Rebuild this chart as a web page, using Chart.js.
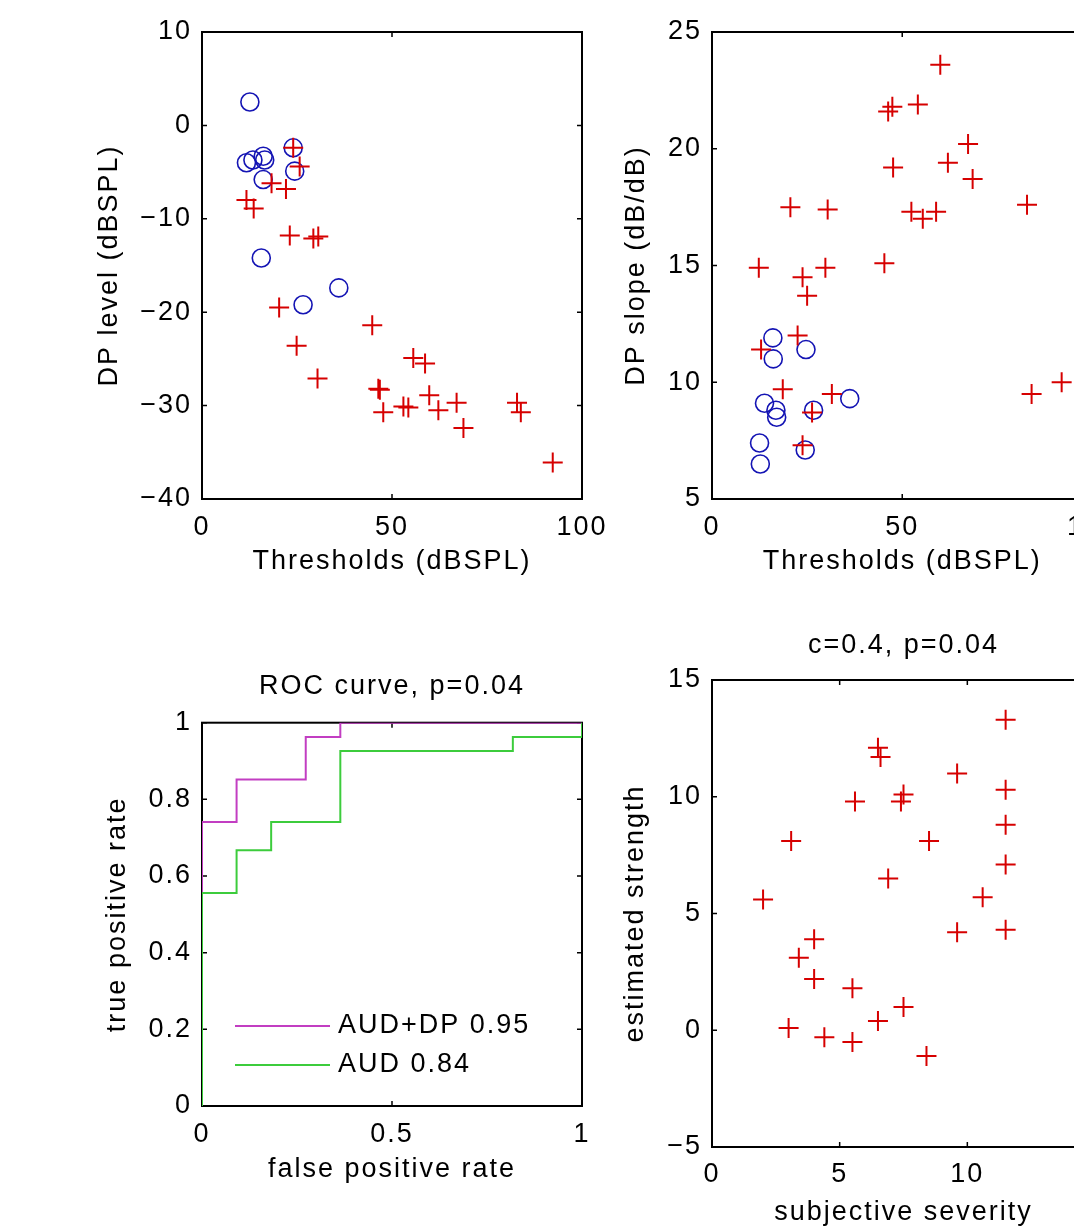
<!DOCTYPE html>
<html>
<head>
<meta charset="utf-8">
<script src="https://cdn.jsdelivr.net/npm/chart.js@4.4.1/dist/chart.umd.min.js"></script>
<style>
  html, body { margin:0; padding:0; background:#fff; }
  body { width:1074px; height:1229px; overflow:hidden; position:relative; }
  canvas { position:absolute; }
</style>
</head>
<body>
<canvas id="c1" width="620" height="600" style="left:0;top:0"></canvas>
<canvas id="c2" width="620" height="600" style="left:510px;top:0"></canvas>
<canvas id="c3" width="620" height="629" style="left:0;top:600px"></canvas>
<canvas id="c4" width="620" height="629" style="left:510px;top:600px"></canvas>
<script>
/* ======= Dados ======= */
// painel 1: DP level x thresholds
const levelCrossX = [24.0, 25.7, 18.3, 22.1, 11.7, 13.6, 23.1, 29.3, 30.6, 20.3, 24.9, 30.4, 44.8, 55.6, 58.7, 46.4, 46.8, 47.7, 53.0, 54.3, 59.8, 62.2, 67.0, 68.8, 82.9, 83.9, 92.3];
const levelCrossY = [-2.4, -4.4, -6.2, -6.8, -8.0, -8.9, -11.8, -12.1, -11.9, -19.5, -23.6, -27.1, -21.4, -24.9, -25.5, -28.2, -28.3, -30.7, -30.1, -30.2, -28.9, -30.5, -29.7, -32.4, -29.7, -30.7, -36.1];
const levelCircX = [12.6, 11.7, 13.4, 16.1, 16.5, 24.0, 24.4, 16.1, 15.6, 26.6, 36.0];
const levelCircY = [2.5, -4.0, -3.7, -3.3, -3.7, -2.4, -4.9, -5.8, -14.2, -19.2, -17.4];

// painel 2: DP slope x thresholds
const slopeCrossX = [60.0, 47.4, 46.3, 54.1, 67.3, 47.6, 62.0, 68.5, 82.8, 20.6, 30.4, 52.4, 55.4, 58.9, 12.3, 29.8, 45.3, 23.8, 25.0, 22.5, 12.9, 18.6, 31.5, 26.3, 23.8, 84.0, 91.9];
const slopeCrossY = [23.6, 21.8, 21.6, 21.9, 20.2, 19.2, 19.4, 18.7, 17.6, 17.5, 17.4, 17.3, 17.0, 17.3, 14.9, 14.9, 15.1, 14.5, 13.7, 12.0, 11.4, 9.7, 9.5, 8.7, 7.3, 9.5, 10.0];
const slopeCircX = [16.0, 16.1, 24.7, 13.8, 16.8, 17.0, 26.7, 36.2, 12.5, 12.7, 24.5];
const slopeCircY = [11.9, 11.0, 11.4, 9.1, 8.8, 8.5, 8.8, 9.3, 7.4, 6.5, 7.1];

// painel 3: curvas ROC
const rocCombFpr = [0, 0, 0.091, 0.091, 0.273, 0.273, 0.364, 0.364, 1];
const rocCombTpr = [0, 0.741, 0.741, 0.852, 0.852, 0.963, 0.963, 1, 1];
const rocAudFpr  = [0, 0, 0.091, 0.091, 0.182, 0.182, 0.364, 0.364, 0.818, 0.818, 1, 1];
const rocAudTpr  = [0, 0.556, 0.556, 0.667, 0.667, 0.741, 0.741, 0.926, 0.926, 0.963, 0.963, 1];
const rocLabels  = ['AUD+DP 0.95', 'AUD 0.84'];

// painel 4: estimated strength x subjective severity
const severity = [11.5, 6.5, 6.6, 9.6, 5.6, 7.5, 7.4, 11.5, 11.5, 3.1, 8.5, 6.9, 11.5, 2.0, 10.6, 9.6, 11.5, 4.0, 3.4, 4.0, 5.5, 7.5, 6.5, 3.0, 4.4, 5.5, 8.4];
const strength = [13.3, 12.1, 11.7, 11.0, 9.8, 10.1, 9.8, 10.3, 8.8, 8.1, 8.1, 6.5, 7.1, 5.6, 5.7, 4.2, 4.3, 3.9, 3.1, 2.2, 1.8, 1.0, 0.4, 0.1, -0.3, -0.5, -1.1];

/* ======= Estilo ======= */
const RED = '#d60000';
const BLUE = '#1414b4';
const MAGENTA = '#c23ec2';
const GREEN = '#3ccc3c';
const FONT = { family: '"Liberation Sans", Arial, sans-serif', size: 27, weight: 'normal', lineHeight: 1.2 };

Chart.defaults.font.family = FONT.family;
Chart.defaults.font.size = FONT.size;
Chart.defaults.color = '#000';

/* ======= Utils ======= */
function toPoints(xs, ys) { return xs.map((x, i) => ({ x: x, y: ys[i] })); }

function fmtTick(v) {
  return String(+v.toFixed(2)).replace('-', '\u2212');
}

function linearAxis(o) {
  return {
    type: 'linear', min: o.min, max: o.max,
    ticks: { stepSize: o.step, padding: o.tickPad, color: '#000', font: FONT, maxRotation: 0, autoSkip: false, callback: fmtTick },
    grid: { display: false, drawTicks: false },
    border: { display: false },
    title: { display: true, text: o.title, color: '#000', font: FONT, padding: o.titlePad },
    afterFit: (s) => { if (s.isHorizontal()) s.height = o.size; else s.width = o.size; }
  };
}

/* ======= Plugins ======= */
// espaçamento de letras parecido com o do MATLAB
const spacingPlugin = {
  id: 'spacing',
  beforeUpdate(c) { c.ctx.letterSpacing = '2px'; },
  beforeDraw(c) { c.ctx.letterSpacing = '2px'; }
};

// caixa fechada + ticks para dentro
const boxPlugin = {
  id: 'box',
  beforeDatasetsDraw(chart) {
    const { ctx, chartArea: a, scales: { x, y } } = chart;
    ctx.save();
    ctx.strokeStyle = '#000';
    ctx.lineWidth = 2;
    ctx.strokeRect(a.left, a.top, a.right - a.left, a.bottom - a.top);
    ctx.lineWidth = 1.5;
    ctx.beginPath();
    for (const t of x.ticks) {
      const px = x.getPixelForValue(t.value);
      ctx.moveTo(px, a.bottom); ctx.lineTo(px, a.bottom - 5);
      ctx.moveTo(px, a.top); ctx.lineTo(px, a.top + 5);
    }
    for (const t of y.ticks) {
      const py = y.getPixelForValue(t.value);
      ctx.moveTo(a.left, py); ctx.lineTo(a.left + 5, py);
      ctx.moveTo(a.right, py); ctx.lineTo(a.right - 5, py);
    }
    ctx.stroke();
    ctx.restore();
  }
};

// legenda dentro do gráfico, canto inferior esquerdo
const insideLegend = {
  id: 'insideLegend',
  afterDatasetsDraw(chart, args, opts) {
    if (!opts || !opts.show) return;
    const { ctx, chartArea: a } = chart;
    const sets = chart.data.datasets;
    ctx.save();
    ctx.font = FONT.size + 'px ' + FONT.family;
    ctx.textBaseline = 'middle';
    ctx.fillStyle = '#000';
    sets.forEach((ds, i) => {
      const y = a.bottom - opts.bottom - (sets.length - 1 - i) * opts.rowGap;
      const x0 = a.left + opts.left;
      ctx.strokeStyle = ds.borderColor;
      ctx.lineWidth = ds.borderWidth;
      ctx.beginPath(); ctx.moveTo(x0, y); ctx.lineTo(x0 + opts.lineLen, y); ctx.stroke();
      ctx.fillText(ds.label, x0 + opts.lineLen + opts.gap, y);
    });
    ctx.restore();
  }
};

function baseOptions(extra) {
  return Object.assign({
    responsive: false, animation: false,
    events: [],
    plugins: { legend: { display: false }, tooltip: { enabled: false } }
  }, extra);
}

function crossSet(xs, ys) {
  return { label: 'cross', data: toPoints(xs, ys), pointStyle: 'cross', pointRadius: 10, pointHoverRadius: 10,
           borderColor: RED, borderWidth: 2, backgroundColor: RED };
}
function circleSet(xs, ys) {
  return { label: 'circle', data: toPoints(xs, ys), pointStyle: 'circle', pointRadius: 9, pointHoverRadius: 9,
           borderColor: BLUE, borderWidth: 1.6, backgroundColor: 'rgba(0,0,0,0)' };
}

/* ======= Painel 1 ======= */
new Chart(document.getElementById('c1'), {
  type: 'scatter',
  data: { datasets: [crossSet(levelCrossX, levelCrossY), circleSet(levelCircX, levelCircY)] },
  options: baseOptions({
    layout: { padding: { top: 32, right: 38, left: 0, bottom: 0 } },
    scales: {
      x: linearAxis({ min: 0, max: 100, step: 50, tickPad: 12, size: 101, title: 'Thresholds (dBSPL)', titlePad: { top: 0, bottom: 22 } }),
      y: linearAxis({ min: -40, max: 10, step: 10, tickPad: 10, size: 202, title: 'DP level (dBSPL)', titlePad: { top: 93, bottom: 0 } })
    }
  }),
  plugins: [spacingPlugin, boxPlugin]
});

/* ======= Painel 2 ======= */
new Chart(document.getElementById('c2'), {
  type: 'scatter',
  data: { datasets: [crossSet(slopeCrossX, slopeCrossY), circleSet(slopeCircX, slopeCircY)] },
  options: baseOptions({
    layout: { padding: { top: 32, right: 35, left: 0, bottom: 0 } },
    scales: {
      x: linearAxis({ min: 0, max: 100, step: 50, tickPad: 12, size: 101, title: 'Thresholds (dBSPL)', titlePad: { top: 0, bottom: 22 } }),
      y: linearAxis({ min: 5, max: 25, step: 5, tickPad: 10, size: 202, title: 'DP slope (dB/dB)', titlePad: { top: 110, bottom: 0 } })
    }
  }),
  plugins: [spacingPlugin, boxPlugin]
});

/* ======= Painel 3 (ROC) ======= */
new Chart(document.getElementById('c3'), {
  type: 'scatter',
  data: {
    datasets: [
      { label: rocLabels[0], data: toPoints(rocCombFpr, rocCombTpr), showLine: true, pointRadius: 0, borderColor: MAGENTA, borderWidth: 2, fill: false, order: 1 },
      { label: rocLabels[1], data: toPoints(rocAudFpr, rocAudTpr), showLine: true, pointRadius: 0, borderColor: GREEN, borderWidth: 2, fill: false, order: 0 }
    ]
  },
  options: baseOptions({
    layout: { padding: { top: 0, right: 38, left: 0, bottom: 0 } },
    plugins: {
      legend: { display: false }, tooltip: { enabled: false },
      title: { display: true, text: 'ROC curve, p=0.04', fullSize: false, color: '#000', font: FONT, padding: { top: 70.4, bottom: 19.9 } },
      insideLegend: { show: true, left: 33, bottom: 41, rowGap: 39, lineLen: 95, gap: 8 }
    },
    scales: {
      x: linearAxis({ min: 0, max: 1, step: 0.5, tickPad: 12, size: 123, title: 'false positive rate', titlePad: { top: 0, bottom: 43 } }),
      y: linearAxis({ min: 0, max: 1, step: 0.2, tickPad: 10, size: 202, title: 'true positive rate', titlePad: { top: 101, bottom: 0 } })
    }
  }),
  plugins: [spacingPlugin, boxPlugin, insideLegend]
});

/* ======= Painel 4 ======= */
new Chart(document.getElementById('c4'), {
  type: 'scatter',
  data: { datasets: [crossSet(severity, strength)] },
  options: baseOptions({
    layout: { padding: { top: 0, right: 35, left: 0, bottom: 0 } },
    plugins: {
      legend: { display: false }, tooltip: { enabled: false },
      title: { display: true, text: 'c=0.4, p=0.04', fullSize: false, color: '#000', font: FONT, padding: { top: 29.4, bottom: 18.2 } }
    },
    scales: {
      x: linearAxis({ min: 0, max: 15, step: 5, tickPad: 11, size: 82, title: 'subjective severity', titlePad: { top: 0, bottom: 0 } }),
      y: linearAxis({ min: -5, max: 15, step: 5, tickPad: 10, size: 202, title: 'estimated strength', titlePad: { top: 109.5, bottom: 0 } })
    }
  }),
  plugins: [spacingPlugin, boxPlugin]
});
</script>
</body>
</html>
